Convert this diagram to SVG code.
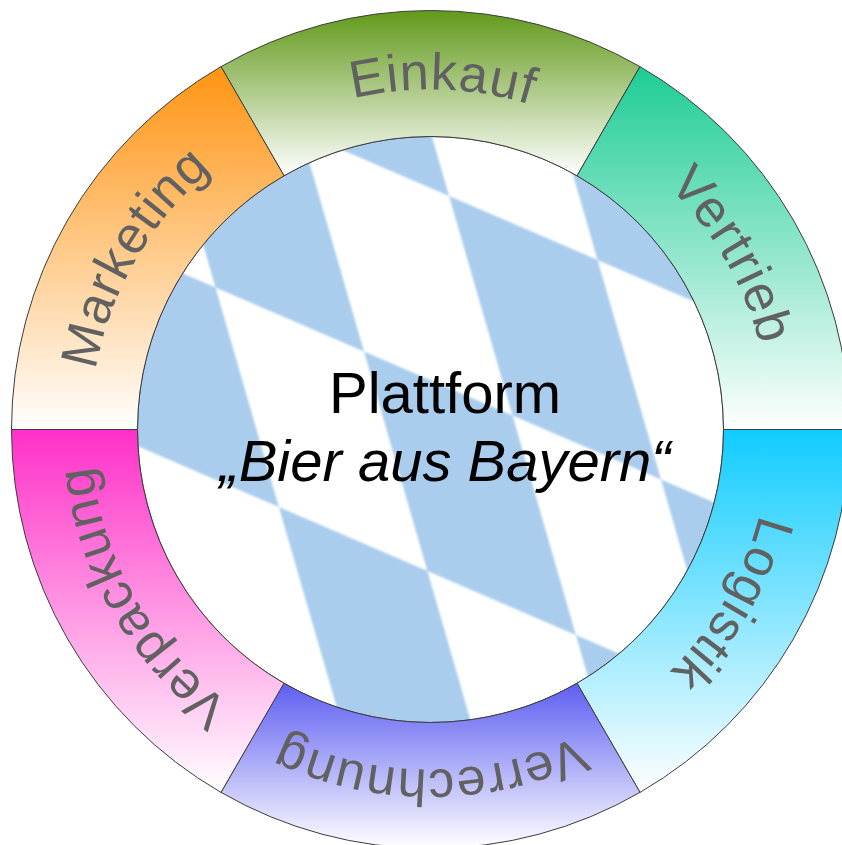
<svg xmlns="http://www.w3.org/2000/svg" xmlns:xlink="http://www.w3.org/1999/xlink" width="842" height="845" viewBox="0 0 842 845">
  <defs>
    <style>
      .seg { stroke: #3c3c3c; stroke-width: 1; }
      .lbl { font-family: "Liberation Sans", Arial, sans-serif; font-size: 52px; letter-spacing: 1px; fill: #616161; }
      .ctr { font-family: "Liberation Sans", Arial, sans-serif; font-size: 58px; fill: #000; text-anchor: middle; }
    </style>
    <linearGradient id="gEinkauf" x1="0" y1="0" x2="0" y2="1"><stop offset="0" stop-color="#62991a"/><stop offset="1" stop-color="#ffffff"/></linearGradient>
    <linearGradient id="gVertrieb" x1="0" y1="0" x2="0" y2="1"><stop offset="0" stop-color="#1ecc96"/><stop offset="1" stop-color="#ffffff"/></linearGradient>
    <linearGradient id="gLogistik" x1="0" y1="0" x2="0" y2="1"><stop offset="0" stop-color="#10ccff"/><stop offset="1" stop-color="#ffffff"/></linearGradient>
    <linearGradient id="gVerrechnung" x1="0" y1="0" x2="0" y2="1"><stop offset="0" stop-color="#5e5ef2"/><stop offset="1" stop-color="#ffffff"/></linearGradient>
    <linearGradient id="gVerpackung" x1="0" y1="0" x2="0" y2="1"><stop offset="0" stop-color="#ff30c8"/><stop offset="1" stop-color="#ffffff"/></linearGradient>
    <linearGradient id="gMarketing" x1="0" y1="0" x2="0" y2="1"><stop offset="0" stop-color="#ff9412"/><stop offset="1" stop-color="#ffffff"/></linearGradient>
    <clipPath id="innerClip"><circle cx="430.5" cy="429.5" r="293"/></clipPath>
    <filter id="soft" x="-5%" y="-5%" width="110%" height="110%"><feGaussianBlur stdDeviation="0.9"/></filter>
    <path id="tpEinkauf" d="M136.05,259.5 A340,340 0 0 1 724.95,259.5" transform="rotate(2 430.5 429.5)"/>
    <path id="tpVertrieb" d="M430.5,89.5 A340,340 0 0 1 724.95,599.5"/>
    <path id="tpLogistik" d="M724.95,259.5 A340,340 0 0 1 430.5,769.5"/>
    <path id="tpVerrechnung" d="M724.95,599.5 A340,340 0 0 1 136.05,599.5"/>
    <path id="tpVerpackung" d="M430.5,769.5 A340,340 0 0 1 136.05,259.5"/>
    <path id="tpMarketing" d="M136.05,599.5 A340,340 0 0 1 430.5,89.5"/>
  </defs>

  <rect width="842" height="845" fill="#ffffff"/>

  <g id="center">
    <g clip-path="url(#innerClip)">
      <rect x="130" y="130" width="600" height="600" fill="#ffffff"/>
      <g filter="url(#soft)">
        <g transform="matrix(148.5 64 63.4 219.5 215.5 287.5)">
          <path fill="#aacdee" d="M-1,-2h1v1h-1z M1,-2h1v1h-1z M3,-2h1v1h-1z
            M-2,-1h1v1h-1z M0,-1h1v1h-1z M2,-1h1v1h-1z M4,-1h1v1h-1z
            M-1,0h1v1h-1z M1,0h1v1h-1z M3,0h1v1h-1z
            M-2,1h1v1h-1z M0,1h1v1h-1z M2,1h1v1h-1z M4,1h1v1h-1z
            M-1,2h1v1h-1z M1,2h1v1h-1z M3,2h1v1h-1z"/>
        </g>
      </g>
    </g>
    <circle cx="430.5" cy="429.5" r="293" fill="none" stroke="#3c3c3c" stroke-width="1"/>
    <text class="ctr" x="445" y="413">Plattform</text>
    <text class="ctr" x="445" y="481" font-style="italic">„Bier aus Bayern“</text>
  </g>

  <g id="einkauf">
    <path class="seg" fill="url(#gEinkauf)" d="M221,66.64 A419,419 0 0 1 640,66.64 L577,175.76 A293,293 0 0 0 284,175.76 Z"/>
    <text class="lbl"><textPath xlink:href="#tpEinkauf" href="#tpEinkauf" startOffset="50%" text-anchor="middle">Einkauf</textPath></text>
  </g>
  <g id="vertrieb">
    <path class="seg" fill="url(#gVertrieb)" d="M640,66.64 A419,419 0 0 1 849.5,429.5 L723.5,429.5 A293,293 0 0 0 577,175.76 Z"/>
    <text class="lbl"><textPath xlink:href="#tpVertrieb" href="#tpVertrieb" startOffset="50%" text-anchor="middle">Vertrieb</textPath></text>
  </g>
  <g id="logistik">
    <path class="seg" fill="url(#gLogistik)" d="M849.5,429.5 A419,419 0 0 1 640,792.36 L577,683.24 A293,293 0 0 0 723.5,429.5 Z"/>
    <text class="lbl"><textPath xlink:href="#tpLogistik" href="#tpLogistik" startOffset="50%" text-anchor="middle">Logistik</textPath></text>
  </g>
  <g id="verrechnung">
    <path class="seg" fill="url(#gVerrechnung)" d="M640,792.36 A419,419 0 0 1 221,792.36 L284,683.24 A293,293 0 0 0 577,683.24 Z"/>
    <text class="lbl"><textPath xlink:href="#tpVerrechnung" href="#tpVerrechnung" startOffset="50%" text-anchor="middle">Verrechnung</textPath></text>
  </g>
  <g id="verpackung">
    <path class="seg" fill="url(#gVerpackung)" d="M221,792.36 A419,419 0 0 1 11.5,429.5 L137.5,429.5 A293,293 0 0 0 284,683.24 Z"/>
    <text class="lbl"><textPath xlink:href="#tpVerpackung" href="#tpVerpackung" startOffset="50%" text-anchor="middle">Verpackung</textPath></text>
  </g>
  <g id="marketing">
    <path class="seg" fill="url(#gMarketing)" d="M11.5,429.5 A419,419 0 0 1 221,66.64 L284,175.76 A293,293 0 0 0 137.5,429.5 Z"/>
    <text class="lbl"><textPath xlink:href="#tpMarketing" href="#tpMarketing" startOffset="50%" text-anchor="middle">Marketing</textPath></text>
  </g>
</svg>
